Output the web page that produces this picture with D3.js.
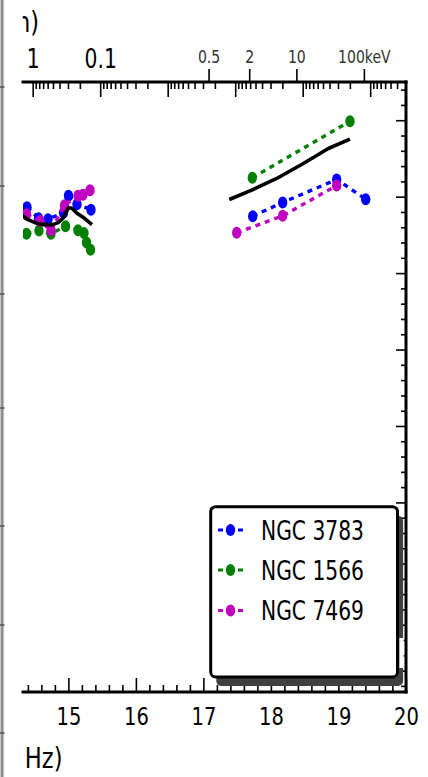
<!DOCTYPE html>
<html>
<head>
<meta charset="utf-8">
<script src="https://cdn.jsdelivr.net/npm/d3@7"></script>
<style>
  html, body { margin: 0; padding: 0; background: #fff; overflow: hidden; }
  svg { display: block; }
  text { font-family: "DejaVu Sans", sans-serif; }
</style>
</head>
<body>
<svg id="chart"></svg>
<script>
// ---------- data (log frequency in Hz, log nuL_nu) ----------
const xDomain = [14.326, 20];
const yDomain = [36.52, 44.5];

const xMajorTicks = [15, 16, 17, 18, 19, 20];
const xMajorLabels = ["15", "16", "17", "18", "19", "20"];
const yMajorTicks = [37, 38, 39, 40, 41, 42, 43, 44];

// top axis: photon energy (keV) and wavelength (micron)
const energyTicks = [0.5, 2, 10, 100];
const energyLabels = ["0.5", "2", "10", "100keV"];
const wavelengthDecades = [10, 1, 0.1, 0.01, 0.001, 0.0001, 0.00001];
const wavelengthLabeled = [1, 0.1];
const wavelengthLabels = ["1", "0.1"];

// NGC 3783
const n3783OptNu = [14.385, 14.556, 14.696, 14.926, 15.000, 15.126, 15.333];
const n3783OptL  = [42.863, 42.719, 42.706, 42.791, 43.013, 42.902, 42.830];
const n3783XNu   = [17.729, 18.173, 18.973, 19.403];
const n3783XL    = [42.745, 42.924, 43.225, 42.967];
// NGC 1566
const n1566OptNu = [14.378, 14.563, 14.741, 14.956, 15.141, 15.230, 15.267, 15.326];
const n1566OptL  = [42.516, 42.556, 42.516, 42.614, 42.562, 42.523, 42.399, 42.307];
const n1566XNu   = [17.723, 19.170];
const n1566XL    = [43.246, 43.987];
// NGC 7469
const n7469OptNu = [14.378, 14.578, 14.741, 14.941, 15.141, 15.215, 15.319];
const n7469OptL  = [42.771, 42.680, 42.562, 42.889, 43.013, 43.026, 43.085];
const n7469XNu   = [17.492, 18.173, 18.973];
const n7469XL    = [42.527, 42.749, 43.146];
// mean SED template (solid black)
const templOptNu = [14.30, 14.400, 14.504, 14.578, 14.681, 14.770, 14.844, 14.919, 15.000, 15.052, 15.126, 15.215, 15.348];
const templOptL  = [42.76, 42.699, 42.660, 42.641, 42.634, 42.634, 42.660, 42.719, 42.856, 42.848, 42.784, 42.732, 42.634];
const templXNu   = [17.382, 17.714, 18.084, 18.479, 18.849, 19.170];
const templXL    = [42.963, 43.085, 43.238, 43.434, 43.630, 43.752];

const seriesNames  = ["NGC 3783", "NGC 1566", "NGC 7469"];
const seriesColors = ["#0000ff", "#008000", "#bf00bf"];

// ---------- layout ----------
const W = 428, H = 777;
const SQ = 0.78;              // the figure is drawn horizontally condensed
const VW = W / SQ;
const px = v => v / SQ;        // screen x -> viewBox x
const frame = { left: 23, right: 406, top: 82, bottom: 692 };

const svg = d3.select("#chart")
  .attr("width", W).attr("height", H)
  .attr("viewBox", `0 0 ${VW} ${H}`)
  .attr("preserveAspectRatio", "none");

const defs = svg.append("defs");
defs.append("clipPath").attr("id", "plotClip").append("rect")
  .attr("x", px(frame.left)).attr("y", frame.top - 30)
  .attr("width", px(frame.right - frame.left)).attr("height", frame.bottom - frame.top + 30);
defs.append("clipPath").attr("id", "dataClip").append("rect")
  .attr("x", px(frame.left)).attr("y", frame.top)
  .attr("width", px(frame.right - frame.left)).attr("height", frame.bottom - frame.top);
defs.append("clipPath").attr("id", "topLabelClip").append("rect")
  .attr("x", px(22.6)).attr("y", 0).attr("width", px(100)).attr("height", 60);

const x = d3.scaleLinear().domain(xDomain).range([px(frame.left), px(frame.right)]);
const y = d3.scaleLinear().domain(yDomain).range([frame.bottom, frame.top]);

const NS = "non-scaling-stroke";
function styleAxis(g, tickW) {
  g.selectAll("line").attr("stroke", "#000").attr("stroke-width", tickW).attr("vector-effect", NS);
  g.select(".domain").remove();
}

// neighbouring panel edge on the far left
svg.append("rect").attr("x", 0).attr("y", 0).attr("width", px(4.2)).attr("height", H).attr("fill", "#c8c8c8");
svg.append("rect").attr("x", px(1)).attr("y", 0).attr("width", px(2.2)).attr("height", H).attr("fill", "#8e8e8e");
const edgeTicks = [87, 186, 294, 408, 526, 625, 733];
svg.selectAll(".edgeTick").data(edgeTicks).join("line")
  .attr("x1", 0).attr("x2", px(4.5)).attr("y1", d => d).attr("y2", d => d)
  .attr("stroke", "#555").attr("stroke-width", 1.5).attr("vector-effect", NS);

// ---------- bottom axis ----------
const minorX = d3.range(14.4, 20.0, 0.2).filter(v => Math.abs(v - Math.round(v)) > 0.05);
const gxMinor = svg.append("g").attr("transform", `translate(0,${frame.bottom})`)
  .call(d3.axisBottom(x).tickValues(minorX).tickSizeInner(-7).tickSizeOuter(0).tickFormat(""));
styleAxis(gxMinor, 1.6);
const gx = svg.append("g").attr("transform", `translate(0,${frame.bottom})`)
  .call(d3.axisBottom(x).tickValues(xMajorTicks).tickSizeInner(-14).tickSizeOuter(0)
    .tickPadding(15).tickFormat((d, i) => xMajorLabels[i]));
styleAxis(gx, 1.6);
gx.selectAll("text").attr("font-size", 25).attr("fill", "#000")
  .attr("font-family", "DejaVu Sans, sans-serif");

// ---------- right axis ----------
const minorY = d3.range(36.6, 44.5, 0.2).filter(v => Math.abs(v - Math.round(v)) > 0.05);
const gyMinor = svg.append("g").attr("transform", `translate(${px(frame.right)},0)`)
  .call(d3.axisRight(y).tickValues(minorY).tickSizeInner(-5 / SQ).tickSizeOuter(0).tickFormat(""));
styleAxis(gyMinor, 1.6);
const gy = svg.append("g").attr("transform", `translate(${px(frame.right)},0)`)
  .call(d3.axisRight(y).tickValues(yMajorTicks).tickSizeInner(-10 / SQ).tickSizeOuter(0).tickFormat(""));
styleAxis(gy, 1.6);

// ---------- top axis (energy above, wavelength below) ----------
const nuFromKeV = e => Math.log10(e * 2.417989e17);
const nuFromMicron = l => Math.log10(2.99792458e14 / l);

const topG = svg.append("g").attr("clip-path", "url(#plotClip)");
topG.selectAll(".eTick").data(energyTicks).join("line")
  .attr("x1", d => x(nuFromKeV(d))).attr("x2", d => x(nuFromKeV(d)))
  .attr("y1", frame.top).attr("y2", frame.top - 13)
  .attr("stroke", "#000").attr("stroke-width", 1.6).attr("vector-effect", NS);

const lamMinor = [];
wavelengthDecades.forEach(dec => d3.range(2, 10).forEach(k => lamMinor.push(k * dec / 10)));
topG.selectAll(".lMinor").data(lamMinor).join("line")
  .attr("x1", d => x(nuFromMicron(d))).attr("x2", d => x(nuFromMicron(d)))
  .attr("y1", frame.top).attr("y2", frame.top + 7)
  .attr("stroke", "#000").attr("stroke-width", 1.6).attr("vector-effect", NS);
topG.selectAll(".lMajor").data(wavelengthDecades).join("line")
  .attr("x1", d => x(nuFromMicron(d))).attr("x2", d => x(nuFromMicron(d)))
  .attr("y1", frame.top).attr("y2", frame.top + 15)
  .attr("stroke", "#000").attr("stroke-width", 1.6).attr("vector-effect", NS);

svg.selectAll(".eLabel").data(energyTicks).join("text")
  .attr("x", d => x(nuFromKeV(d))).attr("y", 63)
  .attr("text-anchor", "middle").attr("font-size", 18).attr("fill", "#333")
  .text((d, i) => energyLabels[i]);
svg.selectAll(".lLabel").data(wavelengthLabeled).join("text")
  .attr("x", d => x(nuFromMicron(d))).attr("y", 68)
  .attr("text-anchor", "middle").attr("font-size", 26).attr("fill", "#000")
  .text((d, i) => wavelengthLabels[i]);

// axis titles (the wavelength title runs past the panel edge)
svg.append("g").attr("clip-path", "url(#topLabelClip)")
  .append("text").attr("x", px(39)).attr("y", 32).attr("text-anchor", "end")
  .attr("font-size", 29).attr("fill", "#000").text("λ (μm)");
svg.append("text").attr("x", px(24.8)).attr("y", 768)
  .attr("font-size", 29).attr("fill", "#000").text("Hz)");

// frame lines
const frameLines = [
  [frame.left, frame.top, frame.right, frame.top],
  [frame.right, frame.top, frame.right, frame.bottom],
  [frame.left, frame.bottom, frame.right, frame.bottom]
];
svg.selectAll(".frame").data(frameLines).join("line")
  .attr("x1", d => px(d[0])).attr("y1", d => d[1]).attr("x2", d => px(d[2])).attr("y2", d => d[3])
  .attr("stroke", "#000").attr("stroke-width", 3).attr("stroke-linecap", "square")
  .attr("vector-effect", NS);

// ---------- data ----------
const zip = (a, b) => a.map((v, i) => [v, b[i]]);
const series = [
  { opt: zip(n3783OptNu, n3783OptL), xr: zip(n3783XNu, n3783XL) },
  { opt: zip(n1566OptNu, n1566OptL), xr: zip(n1566XNu, n1566XL) },
  { opt: zip(n7469OptNu, n7469OptL), xr: zip(n7469XNu, n7469XL) }
].map((s, i) => ({ ...s, name: seriesNames[i], color: seriesColors[i] }));

const line = d3.line().x(d => x(d[0])).y(d => y(d[1]));
const dataG = svg.append("g").attr("clip-path", "url(#dataClip)");

series.forEach(s => {
  const g = dataG.append("g");
  [s.opt, s.xr].forEach(pts => {
    g.append("path").attr("d", line(pts)).attr("fill", "none")
      .attr("stroke", s.color).attr("stroke-width", 3.4)
      .attr("stroke-dasharray", "5,5").attr("vector-effect", NS);
  });
  g.selectAll("circle").data(s.opt.concat(s.xr)).join("circle")
    .attr("cx", d => x(d[0])).attr("cy", d => y(d[1])).attr("r", 6)
    .attr("fill", s.color);
});

[zip(templOptNu, templOptL), zip(templXNu, templXL)].forEach(pts => {
  dataG.append("path").attr("d", line(pts)).attr("fill", "none")
    .attr("stroke", "#000").attr("stroke-width", 3.6)
    .attr("stroke-linejoin", "round").attr("vector-effect", NS);
});

// ---------- legend ----------
const lg = { x0: 210.7, x1: 397.5, y0: 506.7, y1: 677, r: 5 };
svg.append("rect")
  .attr("x", px(lg.x0 + 5.6)).attr("y", lg.y0 + 9)
  .attr("width", px(lg.x1 - lg.x0)).attr("height", lg.y1 - lg.y0)
  .attr("rx", px(lg.r)).attr("ry", lg.r).attr("fill", "#404040");
svg.append("rect")
  .attr("x", px(399.4)).attr("y", 638).attr("width", px(4.4)).attr("height", 30)
  .attr("fill", "#fff");
svg.append("rect")
  .attr("x", px(lg.x0)).attr("y", lg.y0)
  .attr("width", px(lg.x1 - lg.x0)).attr("height", lg.y1 - lg.y0)
  .attr("rx", px(lg.r)).attr("ry", lg.r)
  .attr("fill", "#fff").attr("stroke", "#000").attr("stroke-width", 3)
  .attr("vector-effect", NS);

const rowY = [530, 570, 610.5];
const lgRows = svg.selectAll(".lgRow").data(series).join("g")
  .attr("transform", (d, i) => `translate(0,${rowY[i]})`);
lgRows.append("line")
  .attr("x1", px(218)).attr("x2", px(243)).attr("y1", 0).attr("y2", 0)
  .attr("stroke", d => d.color).attr("stroke-width", 3.2)
  .attr("stroke-dasharray", "5,5").attr("vector-effect", NS);
lgRows.append("circle").attr("cx", px(230.5)).attr("cy", 0).attr("r", 6)
  .attr("fill", d => d.color);
lgRows.append("text").attr("x", px(261)).attr("y", 9.6)
  .attr("font-size", 26).attr("fill", "#000").text(d => d.name);
</script>
</body>
</html>
